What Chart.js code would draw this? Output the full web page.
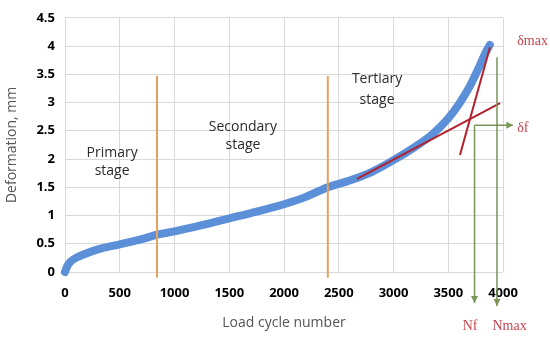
<!DOCTYPE html>
<html>
<head>
<meta charset="utf-8">
<script src="https://cdn.jsdelivr.net/npm/chart.js@4.4.1/dist/chart.umd.min.js"></script>
<style>
  html, body { margin: 0; padding: 0; background: #fff; }
  #wrap { width: 550px; height: 341px; }
</style>
</head>
<body>
<div id="wrap"><canvas id="chart"></canvas></div>
<script>
// measured curve (load cycles -> deformation, mm)
const cycles = [0, 20, 50, 100, 170, 300, 500, 700, 840, 1000, 1250, 1500, 1750, 2000, 2200, 2400, 2600, 2800, 3000, 3200, 3350, 3500, 3600, 3700, 3780, 3840, 3880];
const deformation = [0, 0.1, 0.18, 0.25, 0.31, 0.4, 0.49, 0.58, 0.66, 0.72, 0.83, 0.95, 1.07, 1.2, 1.33, 1.5, 1.62, 1.77, 1.98, 2.22, 2.43, 2.72, 2.98, 3.3, 3.62, 3.88, 4.02];

// stage boundaries (cycles) and their height
const stageBounds = [840, 2400];
const stageTop = 3.47;
const stageBottom = -0.1;

// tangent lines [x1, y1, x2, y2]
const tangentSecondary = [2667, 1.65, 3973, 2.99];
const tangentTertiary = [3607, 2.07, 3881, 3.98];

// failure markers
const Nf = 3740;
const Nmax = 3945;
const deltaF = 2.6;
const deltaMaxTop = 3.8;

const stageNames = [["Primary", "stage"], ["Secondary", "stage"], ["Tertiary", "stage"]];

const xTicks = [0, 500, 1000, 1500, 2000, 2500, 3000, 3500, 4000];
const yTicks = [0, 0.5, 1, 1.5, 2, 2.5, 3, 3.5, 4, 4.5];

const curve = cycles.map((c, i) => ({ x: c, y: deformation[i] }));

const orange = '#E6A062';
const darkRed = '#B3202E';
const green = '#7A9658';
const labelRed = '#C8454F';

const annotations = {
    id: 'annotations',
    afterDatasetsDraw(chart) {
        const ctx = chart.ctx;
        const xs = chart.scales.x, ys = chart.scales.y;
        const px = v => xs.getPixelForValue(v);
        const py = v => ys.getPixelForValue(v);

        // stage labels
        ctx.save();
        ctx.fillStyle = '#2b2b2b';
        ctx.font = '14px "Open Sans", sans-serif';
        ctx.textAlign = 'center';
        ctx.textBaseline = 'middle';
        const spots = [[430, 2.10, 1.79], [1625, 2.57, 2.24], [2850, 3.42, 3.04]];
        stageNames.forEach((lines, i) => {
            const s = spots[i];
            ctx.fillText(lines[0], px(s[0]), py(s[1]));
            ctx.fillText(lines[1], px(s[0]), py(s[2]));
        });

        // green arrows
        ctx.strokeStyle = green;
        ctx.fillStyle = green;
        ctx.lineWidth = 1.5;
        const arrowHead = (x, y, dir) => {
            ctx.beginPath();
            if (dir === 'down') {
                ctx.moveTo(x - 3.5, y - 7);
                ctx.lineTo(x + 3.5, y - 7);
                ctx.lineTo(x, y);
            } else {
                ctx.moveTo(x - 7, y - 3.5);
                ctx.lineTo(x - 7, y + 3.5);
                ctx.lineTo(x, y);
            }
            ctx.closePath();
            ctx.fill();
        };
        ctx.beginPath();
        ctx.moveTo(px(Nf), py(deltaF));
        ctx.lineTo(px(4090), py(deltaF));
        ctx.moveTo(px(Nf), py(deltaF));
        ctx.lineTo(px(Nf), py(-0.55));
        ctx.moveTo(px(Nmax), py(deltaMaxTop));
        ctx.lineTo(px(Nmax), py(-0.6));
        ctx.stroke();
        arrowHead(px(4095), py(deltaF), 'right');
        arrowHead(px(Nf), py(-0.55), 'down');
        arrowHead(px(Nmax), py(-0.6), 'down');

        // red marker labels
        ctx.fillStyle = labelRed;
        ctx.font = '14px "Liberation Serif", "DejaVu Serif", serif';
        ctx.textAlign = 'left';
        ctx.fillText('δmax', px(4130), py(4.08));
        ctx.fillText('δf', px(4130), py(2.55));
        ctx.textAlign = 'center';
        ctx.fillText('Nf', px(3700), py(-0.97));
        ctx.fillText('Nmax', px(4060), py(-0.97));
        ctx.restore();
    }
};

const ctx = document.getElementById('chart').getContext('2d');

// datasets listed first are drawn on top
chart = new Chart(ctx, {
    type: 'line',
    data: {
        datasets: [
            {
                data: [{ x: tangentSecondary[0], y: tangentSecondary[1] }, { x: tangentSecondary[2], y: tangentSecondary[3] }],
                borderColor: darkRed,
                borderWidth: 2,
                pointRadius: 0,
                clip: false
            },
            {
                data: [{ x: tangentTertiary[0], y: tangentTertiary[1] }, { x: tangentTertiary[2], y: tangentTertiary[3] }],
                borderColor: darkRed,
                borderWidth: 2,
                pointRadius: 0,
                clip: false
            },
            {
                data: [{ x: stageBounds[0], y: stageBottom }, { x: stageBounds[0], y: stageTop }],
                borderColor: orange,
                borderWidth: 2,
                pointRadius: 0,
                clip: false
            },
            {
                data: [{ x: stageBounds[1], y: stageBottom }, { x: stageBounds[1], y: stageTop }],
                borderColor: orange,
                borderWidth: 2,
                pointRadius: 0,
                clip: false
            },
            {
                data: curve,
                borderColor: '#5B8FD8',
                borderWidth: 8,
                borderCapStyle: 'round',
                borderJoinStyle: 'round',
                pointRadius: 0,
                cubicInterpolationMode: 'monotone',
                clip: false
            }
        ]
    },
    options: {
        responsive: true,
        maintainAspectRatio: false,
        animation: false,
        layout: { padding: { left: 0, right: 47, top: 13, bottom: 0 } },
        plugins: {
            legend: { display: false },
            tooltip: { enabled: false }
        },
        scales: {
            x: {
                type: 'linear',
                min: 0,
                max: 4000,
                afterBuildTicks: s => { s.ticks = xTicks.map(v => ({ value: v })); },
                afterFit: s => { s.height = 69; },
                grid: { color: '#d9d9d9', drawTicks: false },
                border: { display: false },
                ticks: {
                    padding: 13,
                    color: '#000',
                    font: { family: '"Open Sans", sans-serif', size: 13, weight: 'bold' },
                    maxRotation: 0,
                    callback: v => String(v)
                },
                title: {
                    display: true,
                    text: 'Load cycle number',
                    color: '#555',
                    font: { family: '"Open Sans", sans-serif', size: 14 },
                    padding: { top: 0, bottom: 10 }
                }
            },
            y: {
                min: 0,
                max: 4.5,
                afterBuildTicks: s => { s.ticks = yTicks.map(v => ({ value: v })); },
                afterFit: s => { s.width = 65; },
                grid: { color: '#d9d9d9', drawTicks: false },
                border: { display: false },
                ticks: {
                    padding: 10,
                    color: '#000',
                    font: { family: '"Open Sans", sans-serif', size: 13, weight: 'bold' },
                    callback: v => String(v)
                },
                title: {
                    display: true,
                    text: 'Deformation, mm',
                    color: '#555',
                    font: { family: '"Open Sans", sans-serif', size: 14 },
                    padding: { top: 4, bottom: 0 }
                }
            }
        }
    },
    plugins: [annotations]
});
</script>
</body>
</html>
